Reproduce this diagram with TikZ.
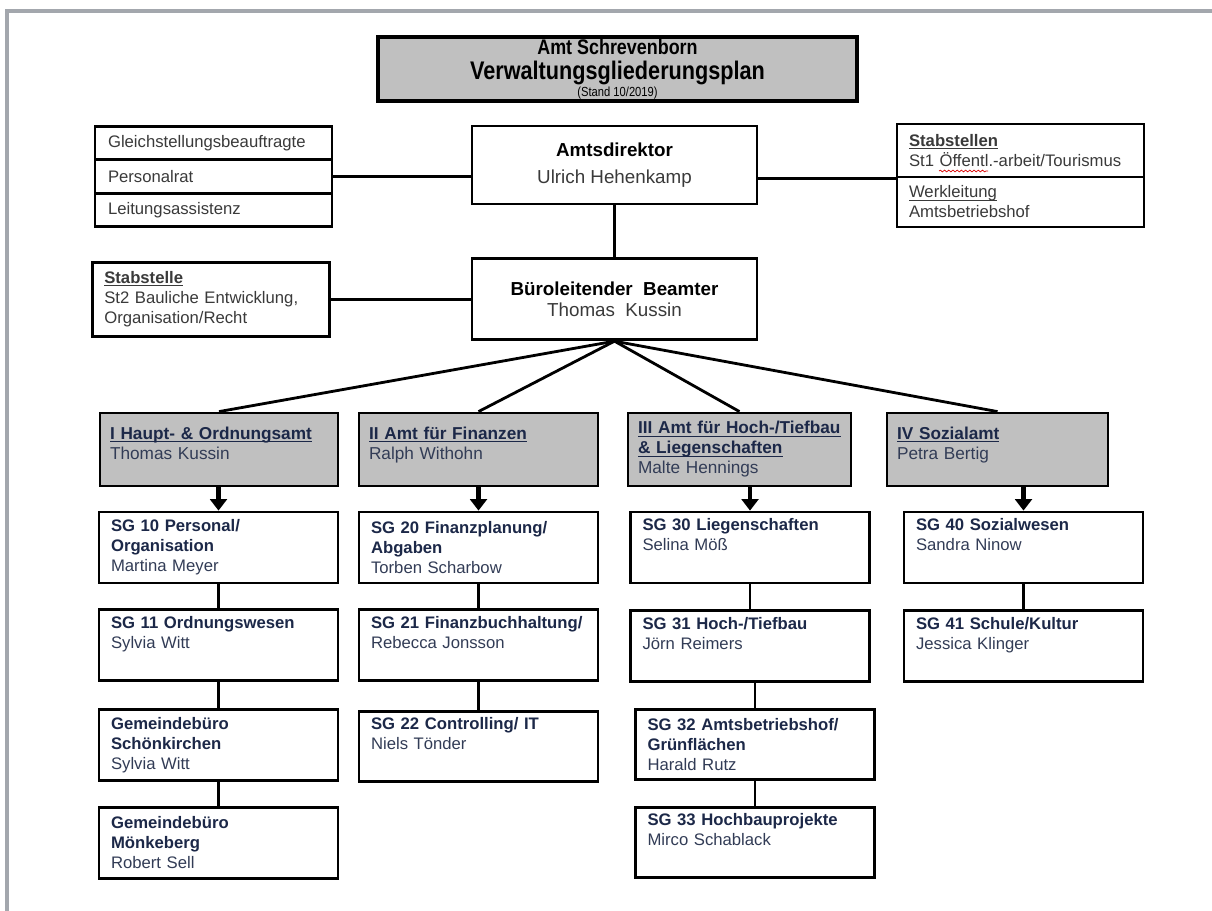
\documentclass[tikz,border=0pt]{standalone}
\usepackage{fontspec}
\setmainfont{Liberation Sans}
\newfontfamily\narrowfont[FakeStretch=0.85]{Liberation Sans}
\usetikzlibrary{arrows.meta,positioning,decorations.pathmorphing}

\newlength{\ulwd}
\newcommand{\ulined}[1]{\settowidth{\ulwd}{#1}\rlap{\rule[-1.5pt]{\ulwd}{0.6pt}}#1}

\definecolor{boxgray}{RGB}{192,192,192}
\definecolor{framegray}{RGB}{163,167,173}
\definecolor{navy}{RGB}{28,40,72}
\definecolor{navyname}{RGB}{50,60,86}
\definecolor{darktext}{RGB}{58,58,58}

\begin{document}
\begin{tikzpicture}[x=0.02cm,y=-0.02cm,
  box/.style={rectangle,draw,line width=1.6pt,fill=white},
  title node/.style={box,line width=1.8pt,fill=boxgray,minimum width=9.58cm,
    minimum height=1.28cm,align=center,inner sep=0pt,
    font=\narrowfont\bfseries\fontsize{12}{12.5}\selectfont},
  head node/.style={box,minimum width=5.7cm,align=center,
    font=\fontsize{10.7}{12.5}\selectfont},
  list node/.style={box,text width=4.22cm,inner xsep=0.26cm,minimum height=0.67cm,
    align=left,text=darktext,font=\fontsize{9.5}{11.4}\selectfont},
  staff node/.style={box,text width=#1,inner xsep=0.24cm,align=left,text=darktext,
    font=\fontsize{9.5}{11.4}\selectfont},
  amt node/.style={box,fill=boxgray,text width=#1,inner xsep=0.2cm,minimum height=1.46cm,
    align=left,text=navyname,font=\fontsize{9.8}{11.4}\selectfont},
  amt pad/.style={execute at begin node={\rule{0pt}{11.5pt}}},
  sg node/.style={box,text width=4.3cm,inner xsep=0.24cm,minimum height=1.42cm,
    align=left,text=navy,font=\bfseries\fontsize{9.5}{11.4}\selectfont},
  org line/.style={draw,line width=1.6pt},
  down arrow/.style={line width=2.6pt,-{Triangle[width=9.5pt,length=6.5pt]}},
  spell mark/.style={draw=red!85!black,line width=0.4pt,decorate,
    decoration={snake,amplitude=0.5pt,segment length=2.4pt}}]

  \useasboundingbox (0,0) rectangle (1212,911);
  \draw[framegray,line width=1.8pt] (1212,11) -- (7,11) -- (7,911);

  % Kopf
  \node[title node] (titel) at (617.5,69)
    {Amt Schrevenborn\\[2pt]{\fontsize{14.5}{15}\selectfont Verwaltungsgliederungsplan}\\[-3pt]
     {\mdseries\fontsize{7.5}{7.5}\selectfont (Stand 10/2019)}};

  \node[head node,minimum height=1.56cm] (amtsdir) at (614.5,165)
    {\textbf{Amtsdirektor}\\[2.5pt]\textcolor{darktext}{Ulrich Hehenkamp}};
  \node[head node,minimum height=1.62cm,below=1.04cm of amtsdir] (buero)
    {\textbf{Büroleitender\ \ Beamter}\\\textcolor{darktext}{Thomas\ \ Kussin}};

  \node[list node] (gleich) at (213.5,143) {Gleichstellungsbeauftragte};
  \node[list node,below=-1.6pt of gleich] (prat) {Personalrat};
  \node[list node,below=-1.6pt of prat] (leitass) {Leitungsassistenz};

  \node[staff node=4.46cm,minimum height=1.06cm] (stab1) at (1020.5,150.5)
    {\textbf{\ulined{Stabstellen}}\\St1 Öffentl.-arbeit/Tourismus};
  \node[staff node=4.46cm,minimum height=1.0cm,below=-1.6pt of stab1] (werk)
    {\ulined{Werkleitung}\\Amtsbetriebshof};
  \node[staff node=4.26cm,minimum height=1.48cm,left=2.8cm of buero] (stab2)
    {\textbf{\ulined{Stabstelle}}\\St2 Bauliche Entwicklung,\\Organisation/Recht};

  \draw[spell mark] (939,171) -- (988,171);

  \path[org line] (prat.east) edge (prat.east -| amtsdir.west)
    (amtsdir.east |- stab1.south) edge (stab1.south west)
    (amtsdir) edge (buero)
    (stab2.east) edge (stab2.east -| buero.west);

  % Aemter
  \node[amt node=4.36cm,amt pad] (amt1) at (219,449.5)
    {\textbf{\color{navy}\ulined{I Haupt- \& Ordnungsamt}}\\Thomas Kussin\\\mbox{}};
  \node[amt node=4.38cm,amt pad] (amt2) at (478.5,449.5)
    {\textbf{\color{navy}\ulined{II Amt für Finanzen}}\\Ralph Withohn\\\mbox{}};
  \node[amt node=4.06cm] (amt3) at (739.5,449.5)
    {\textbf{\color{navy}\ulined{III Amt für Hoch-/Tiefbau}}\\
     \textbf{\color{navy}\ulined{\& Liegenschaften}}\\Malte Hennings};
  \node[amt node=4.02cm,amt pad] (amt4) at (997.5,449.5)
    {\textbf{\color{navy}\ulined{IV Sozialamt}}\\Petra Bertig\\\mbox{}};

  \path[org line] (buero.south) edge (amt1.north)
    (buero.south) edge (amt2.north)
    (buero.south) edge (amt3.north)
    (buero.south) edge (amt4.north);

  % Sachgebiete
  \node[sg node] (sg10) at (218.5,547.5)
    {SG 10 Personal/\\Organisation\\\textmd{\color{navyname}Martina Meyer}};
  \node[sg node,below=0.48cm of sg10] (sg11)
    {SG 11 Ordnungswesen\\\textmd{\color{navyname}Sylvia Witt}\\\strut};
  \node[sg node,below=0.52cm of sg11] (gb1)
    {Gemeindebüro\\Schönkirchen\\\textmd{\color{navyname}Sylvia Witt}};
  \node[sg node,below=0.48cm of gb1] (gb2)
    {Gemeindebüro\\Mönkeberg\\\textmd{\color{navyname}Robert Sell}};

  \node[sg node] (sg20) at (478.5,547.5)
    {SG 20 Finanzplanung/\\Abgaben\\\textmd{\color{navyname}Torben Scharbow}};
  \node[sg node,below=0.48cm of sg20] (sg21)
    {SG 21 Finanzbuchhaltung/\\\textmd{\color{navyname}Rebecca Jonsson}\\\strut};
  \node[sg node,below=0.56cm of sg21,minimum height=1.4cm] (sg22)
    {SG 22 Controlling/ IT\\\textmd{\color{navyname}Niels Tönder}\\\strut};

  \node[sg node] (sg30) at (750,547.5)
    {SG 30 Liegenschaften\\\textmd{\color{navyname}Selina Möß}\\\strut};
  \node[sg node,below=0.5cm of sg30] (sg31)
    {SG 31 Hoch-/Tiefbau\\\textmd{\color{navyname}Jörn Reimers}\\\strut};
  \node[sg node,below=0.5cm of sg31,xshift=0.1cm,minimum height=1.4cm] (sg32)
    {SG 32 Amtsbetriebshof/\\Grünflächen\\\textmd{\color{navyname}Harald Rutz}};
  \node[sg node,below=0.5cm of sg32,minimum height=1.26cm] (sg33)
    {SG 33 Hochbauprojekte\\\textmd{\color{navyname}Mirco Schablack}\\\strut};

  \node[sg node] (sg40) at (1023.5,547.5)
    {SG 40 Sozialwesen\\\textmd{\color{navyname}Sandra Ninow}\\\strut};
  \node[sg node,below=0.5cm of sg40] (sg41)
    {SG 41 Schule/Kultur\\\textmd{\color{navyname}Jessica Klinger}\\\strut};

  \draw[down arrow] (amt1.south -| sg10.north) -- (sg10.north);
  \draw[down arrow] (amt2.south -| sg20.north) -- (sg20.north);
  \draw[down arrow] (amt3.south -| sg30.north) -- (sg30.north);
  \draw[down arrow] (amt4.south -| sg40.north) -- (sg40.north);

  \path[org line] (sg10) edge (sg11) (sg11) edge (gb1) (gb1) edge (gb2)
    (sg20) edge (sg21) (sg21) edge (sg22)
    (sg30) edge (sg31) (sg32.north |- sg31.south) edge (sg32) (sg32) edge (sg33)
    (sg40) edge (sg41);

\end{tikzpicture}
\end{document}
